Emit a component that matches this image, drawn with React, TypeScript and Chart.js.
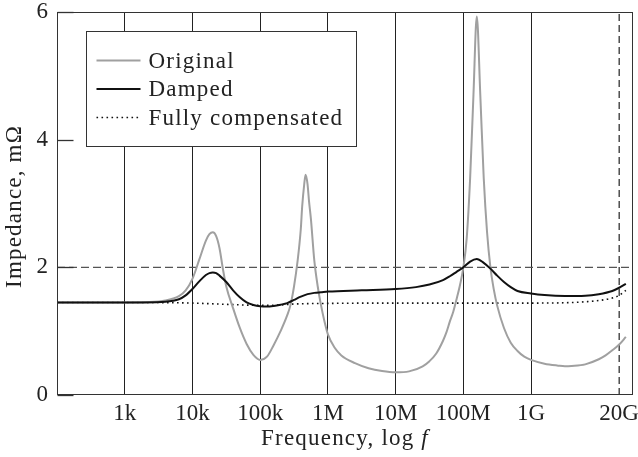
import React, { useEffect, useRef } from "react";
import { Chart, registerables } from "chart.js";

Chart.register(...registerables);

// ---- data (frequency in Hz, impedance in mΩ) ----
const ORIGINAL_FREQ = [
  100, 316, 1000, 2000, 3980, 6310, 7940, 10000, 12600, 15800, 17800, 20000, 22400, 25100, 28200, 31600,
  39800, 50100, 63100, 79400, 1e5, 1.26e5, 1.58e5, 2.0e5, 2.51e5, 2.82e5, 3.16e5, 3.55e5, 3.98e5, 4.17e5,
  4.47e5, 4.68e5, 5.01e5, 5.25e5, 5.62e5, 6.31e5, 7.08e5, 7.94e5, 8.91e5, 1e6, 1.26e6, 1.58e6, 2.51e6,
  3.98e6, 6.31e6, 1e7, 1.58e7, 2.51e7, 3.16e7, 3.98e7, 5.01e7, 5.62e7, 6.31e7, 7.08e7, 7.94e7, 8.91e7, 1e8,
  1.12e8, 1.26e8, 1.41e8, 1.58e8, 1.78e8, 2.0e8, 2.24e8, 2.51e8, 2.82e8, 3.16e8, 3.98e8, 5.01e8, 6.31e8,
  7.94e8, 1e9, 1.58e9, 2.51e9, 3.16e9, 3.98e9, 6.31e9, 1e10, 1.26e10, 1.58e10, 2.0e10, 2.51e10,
];
const ORIGINAL_Z = [
  1.45, 1.45, 1.45, 1.455, 1.48, 1.55, 1.64, 1.82, 2.12, 2.42, 2.52, 2.55, 2.49, 2.3, 1.97, 1.7,
  1.36, 1.05, 0.8, 0.63, 0.55, 0.6, 0.78, 1.0, 1.25, 1.42, 1.7, 2.08, 2.6, 2.95,
  3.3, 3.45, 3.3, 3.05, 2.75, 2.1, 1.7, 1.4, 1.15, 0.95, 0.74, 0.62, 0.5,
  0.42, 0.375, 0.355, 0.37, 0.45, 0.53, 0.65, 0.85, 0.98, 1.15, 1.3, 1.5, 1.72, 2.0,
  2.45, 3.4, 4.7, 5.93, 4.7, 3.4, 2.55, 2.0, 1.65, 1.4, 1.05, 0.82, 0.69,
  0.6, 0.55, 0.49, 0.46, 0.45, 0.455, 0.48, 0.56, 0.62, 0.7, 0.79, 0.91,
];

const DAMPED_FREQ = [
  100, 316, 1000, 2000, 3980, 6310, 7940, 10000, 12600, 15800, 17800, 20000, 22400, 25100, 31600, 39800,
  50100, 63100, 79400, 1e5, 1.26e5, 1.58e5, 2.0e5, 2.51e5, 3.16e5, 3.98e5, 5.01e5, 6.31e5, 7.94e5, 1e6,
  3.16e6, 1e7, 2.0e7, 3.16e7, 5.01e7, 6.31e7, 7.94e7, 1e8, 1.26e8, 1.58e8, 2.0e8, 2.51e8, 3.16e8, 3.98e8,
  5.01e8, 6.31e8, 1e9, 1.58e9, 3.16e9, 6.31e9, 1e10, 1.58e10, 2.0e10, 2.51e10,
];
const DAMPED_Z = [
  1.45, 1.45, 1.45, 1.45, 1.46, 1.5, 1.56, 1.66, 1.78, 1.88, 1.91, 1.92, 1.91, 1.87, 1.77, 1.64,
  1.53, 1.45, 1.41, 1.39, 1.385, 1.395, 1.415, 1.44, 1.49, 1.54, 1.58, 1.6, 1.61, 1.62,
  1.64, 1.66, 1.69, 1.73, 1.8, 1.86, 1.93, 2.0, 2.09, 2.13, 2.07, 1.98, 1.87, 1.77,
  1.69, 1.63, 1.59, 1.565, 1.55, 1.555, 1.58, 1.63, 1.68, 1.74,
];

const COMP_FREQ = [
  100, 1000, 3160, 10000, 31600, 1e5, 2.0e5, 3.16e5, 1e6, 1e7, 1e8, 1e9, 3.16e9, 6.31e9, 1e10, 1.58e10,
  2.0e10, 2.51e10,
];
const COMP_Z = [
  1.45, 1.45, 1.448, 1.44, 1.42, 1.405, 1.41, 1.425, 1.435, 1.44, 1.44, 1.44, 1.445, 1.46, 1.48, 1.52,
  1.56, 1.64,
];

const SERIES_LABELS = ["Original", "Damped", "Fully compensated"];

const X_TICKS = [1e3, 1e4, 1e5, 1e6, 1e7, 1e8, 1e9, 2e10];
const X_TICK_LABELS = ["1k", "10k", "100k", "1M", "10M", "100M", "1G", "20G"];
const Y_TICKS = [0, 2, 4, 6];

const X_MIN = 100;
const X_MAX = 3.2e10;
const Y_MIN = 0;
const Y_MAX = 6;

const LIMIT_Z = 2; // dashed horizontal limit
const LIMIT_FREQ = 2e10; // dashed vertical limit

const FONT = "'Liberation Serif', 'Times New Roman', serif";

const toPoints = (xs: number[], ys: number[]) => xs.map((x, i) => ({ x, y: ys[i] }));

const zeroPad = (scale: any) => {
  scale.paddingTop = 0;
  scale.paddingBottom = 0;
  scale.paddingLeft = 0;
  scale.paddingRight = 0;
};

const decorPlugin = {
  id: "decor",
  afterDraw(chart: any) {
    const { ctx, chartArea: ca, scales } = chart;
    const ds = chart.data.datasets;
    ctx.save();

    // frame
    ctx.strokeStyle = "#333";
    ctx.lineWidth = 1;
    ctx.setLineDash([]);
    const L = Math.round(ca.left) + 0.5;
    const T = Math.round(ca.top) + 0.5;
    const R = Math.round(ca.right) - 0.5;
    const B = Math.round(ca.bottom) - 0.5;
    ctx.strokeRect(L, T, R - L, B - T);

    // inward y ticks
    ctx.lineWidth = 1.3;
    for (const v of Y_TICKS) {
      const y = Math.round(scales.y.getPixelForValue(v)) + 0.5;
      ctx.beginPath();
      ctx.moveTo(L, y);
      ctx.lineTo(L + 16, y);
      ctx.stroke();
    }

    // legend
    const bx = Math.round(ca.left + 29) + 0.5;
    const by = Math.round(ca.top + 19) + 0.5;
    const bw = 270;
    const bh = 115;
    ctx.fillStyle = "#fff";
    ctx.fillRect(bx, by, bw, bh);
    ctx.strokeStyle = "#333";
    ctx.lineWidth = 1;
    ctx.strokeRect(bx, by, bw, bh);
    (ctx as any).letterSpacing = "1.2px";
    ctx.font = `23px ${FONT}`;
    ctx.textAlign = "left";
    ctx.textBaseline = "alphabetic";
    for (let i = 0; i < SERIES_LABELS.length; i++) {
      const d = ds[i];
      const baseline = by + 36 + i * 28.5;
      const ly = baseline - 7;
      ctx.beginPath();
      ctx.strokeStyle = d.borderColor;
      ctx.lineWidth = d.borderWidth;
      ctx.setLineDash(d.borderDash || []);
      ctx.moveTo(bx + 10, ly);
      ctx.lineTo(bx + 54, ly);
      ctx.stroke();
      ctx.setLineDash([]);
      ctx.fillStyle = "#222";
      ctx.fillText(SERIES_LABELS[i], bx + 62, baseline);
    }

    // x title with italic f
    const cx = (ca.left + ca.right) / 2;
    ctx.font = `23px ${FONT}`;
    const part1 = "Frequency, log ";
    const w1 = ctx.measureText(part1).width;
    ctx.font = `italic 23px ${FONT}`;
    const w2 = ctx.measureText("f").width;
    const sx = cx - (w1 + w2) / 2;
    ctx.fillStyle = "#222";
    ctx.font = `23px ${FONT}`;
    ctx.fillText(part1, sx, 445);
    ctx.font = `italic 23px ${FONT}`;
    ctx.fillText("f", sx + w1, 445);

    // y title
    ctx.font = `23px ${FONT}`;
    ctx.translate(21, (ca.top + ca.bottom) / 2 + 3);
    ctx.rotate(-Math.PI / 2);
    ctx.textAlign = "center";
    ctx.fillText("Impedance, mΩ", 0, 0);

    (ctx as any).letterSpacing = "0px";
    ctx.restore();
  },
};

export default function App() {
  const ref = useRef<HTMLCanvasElement | null>(null);

  useEffect(() => {
    if (!ref.current) return;
    const chart = new Chart(ref.current, {
      type: "line",
      data: {
        datasets: [
          {
            label: SERIES_LABELS[0],
            data: toPoints(ORIGINAL_FREQ, ORIGINAL_Z),
            borderColor: "#a0a0a0",
            borderWidth: 2,
            pointRadius: 0,
            cubicInterpolationMode: "monotone",
            order: 1,
          },
          {
            label: SERIES_LABELS[1],
            data: toPoints(DAMPED_FREQ, DAMPED_Z),
            borderColor: "#111",
            borderWidth: 2,
            pointRadius: 0,
            cubicInterpolationMode: "monotone",
            order: 0,
          },
          {
            label: SERIES_LABELS[2],
            data: toPoints(COMP_FREQ, COMP_Z),
            borderColor: "#111",
            borderWidth: 1.6,
            borderDash: [1.6, 3.4],
            pointRadius: 0,
            cubicInterpolationMode: "monotone",
            order: 2,
          },
          {
            label: "limit",
            data: [
              { x: X_MIN, y: LIMIT_Z },
              { x: X_MAX, y: LIMIT_Z },
            ],
            borderColor: "#555",
            borderWidth: 1.2,
            borderDash: [8, 4],
            pointRadius: 0,
            order: 3,
          },
          {
            label: "fmax",
            data: [
              { x: LIMIT_FREQ, y: Y_MIN },
              { x: LIMIT_FREQ, y: Y_MAX },
            ],
            borderColor: "#222",
            borderWidth: 1.2,
            borderDash: [7, 4],
            pointRadius: 0,
            order: 4,
          },
        ],
      },
      options: {
        responsive: false,
        animation: false,
        events: [],
        layout: { padding: { top: 12, right: 5, left: 0, bottom: 0 } },
        plugins: { legend: { display: false }, tooltip: { enabled: false } },
        scales: {
          x: {
            type: "logarithmic",
            min: X_MIN,
            max: X_MAX,
            afterBuildTicks: (scale: any) => {
              scale.ticks = X_TICKS.map((v) => ({ value: v }));
            },
            afterFit: (scale: any) => {
              scale.height = 62;
              zeroPad(scale);
            },
            ticks: {
              autoSkip: false,
              maxRotation: 0,
              padding: 5,
              color: "#222",
              font: { family: FONT, size: 23 },
              callback: (_v: any, i: number) => X_TICK_LABELS[i],
            },
            grid: {
              color: (c: any) => (c.tick && c.tick.value === LIMIT_FREQ ? "rgba(0,0,0,0)" : "#222"),
              lineWidth: 1,
              drawTicks: false,
            },
            border: { display: false },
          },
          y: {
            type: "linear",
            min: Y_MIN,
            max: Y_MAX,
            afterBuildTicks: (scale: any) => {
              scale.ticks = Y_TICKS.map((v) => ({ value: v }));
            },
            afterFit: (scale: any) => {
              scale.width = 57;
              zeroPad(scale);
            },
            ticks: {
              padding: 9,
              color: "#222",
              font: { family: FONT, size: 23 },
            },
            grid: { drawOnChartArea: false, drawTicks: false },
            border: { display: false },
          },
        },
      },
      plugins: [decorPlugin],
    } as any);
    return () => chart.destroy();
  }, []);

  return (
    <div style={{ position: "fixed", left: 0, top: 0, width: 638, height: 457, background: "#fff" }}>
      <canvas ref={ref} width={638} height={457} style={{ display: "block" }} />
    </div>
  );
}
